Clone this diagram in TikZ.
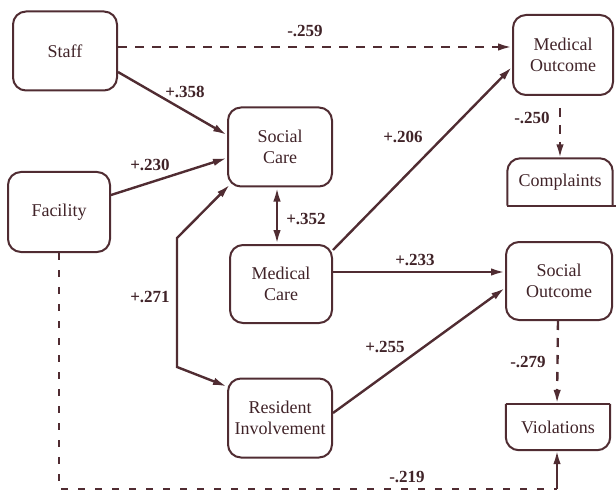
\documentclass[tikz,border=0pt]{standalone}
\usepackage{fontspec}
\setmainfont{Liberation Serif}
\usetikzlibrary{arrows.meta,positioning}
\definecolor{ink}{RGB}{80,44,50}

\begin{document}
\begin{tikzpicture}[x=1pt,y=-1pt,
  box/.style={draw=ink,line width=2pt,rounded corners=13pt,align=center,text=ink!80!black,inner sep=0pt,font=\fontsize{18}{21}\selectfont},
  plainbox/.style={align=center,text=ink!80!black,inner sep=0pt,font=\fontsize{18}{21}\selectfont},
  lbl/.style={text=ink!80!black,inner sep=0pt,font=\bfseries\fontsize{17}{20}\selectfont},
  arr/.style={draw=ink,line width=2.4pt,-{Latex[length=14pt,width=7.5pt]}},
  darr/.style={arr,dash pattern=on 9pt off 8pt}]
  \useasboundingbox (0,0) rectangle (616,492);
  % boxes
  \node[box,minimum width=104pt,minimum height=79pt] (staff) at (65,51) {Staff};
  \node[box,minimum width=102pt,minimum height=80pt] (fac) at (59,212) {Facility};
  \node[box,minimum width=104pt,minimum height=79pt] (socc) at (280,147) {Social\\Care};
  \node[box,minimum width=102pt,minimum height=78pt] (medc) at (281,284) {Medical\\Care};
  \node[box,minimum width=104pt,minimum height=79pt] (resi) at (280,418) {Resident\\Involvement};
  \node[box,minimum width=100pt,minimum height=80pt] (medo) at (563,55) {Medical\\Outcome};
  \node[box,minimum width=106pt,minimum height=78pt] (soco) at (559,281) {Social\\Outcome};
  \node[plainbox,minimum width=105pt,minimum height=47pt] (cmpl) at (560,182) {Complaints};
  \node[plainbox,minimum width=104pt,minimum height=46pt] (viol) at (558,427) {Violations};
  \draw[ink,line width=2pt,rounded corners=13pt] (cmpl.south west) -- (cmpl.north west) -- (cmpl.north east) -- (cmpl.south east);
  \draw[ink,line width=2pt] (cmpl.south west) -- ([xshift=3pt]cmpl.south east);
  \draw[ink,line width=2pt,rounded corners=13pt] (viol.north west) -- (viol.south west) -- (viol.south east) -- (viol.north east);
  \draw[ink,line width=2pt] (viol.north west) -- (viol.north east);
  % corners of the long paths
  \coordinate (k1) at (177,238);
  \coordinate (k2) at (177,367);
  \coordinate (b1) at (59,489);
  \coordinate (b2) at (557,489);
  % connectors
  \draw[darr] ([yshift=4pt]staff.east) -- ([yshift=4pt]staff.east -| medo.west);
  \draw[arr] ([yshift=-21pt]staff.east) -- ([yshift=12pt]socc.west);
  \draw[arr] ([yshift=17pt]fac.east) -- ([yshift=-11pt]socc.west);
  \draw[arr,{Latex[length=14pt,width=7.5pt]}-{Latex[length=14pt,width=7.5pt]}] ([xshift=-3pt]socc.south) -- ([xshift=-3pt]socc.south |- medc.north);
  \draw[arr,{Latex[length=14pt,width=7.5pt]}-{Latex[length=14pt,width=7.5pt]}] ([shift={(3pt,3pt)}]socc.south west) -- (k1) -- (k2) -- ([yshift=-9pt]resi.north west);
  \draw[arr] ([yshift=34pt]medc.east) -- ([yshift=-12pt]medo.west);
  \draw[arr] ([yshift=12pt]medc.east) -- ([yshift=12pt]medc.east -| soco.west);
  \draw[arr] ([yshift=5pt]resi.east) -- ([yshift=-7pt]soco.west);
  \draw[darr] ([yshift=-12pt]medo.south -| cmpl.north) -- (cmpl.north);
  \draw[darr] (soco.south -| viol.north) -- ([xshift=-1pt]viol.north);
  \draw[ink,line width=2.4pt,dash pattern=on 7pt off 10pt] (fac.south) -- (b1) -- (b2);
  \draw[arr] (b2) -- (b2 |- viol.south);
  % path labels
  \node[lbl] (l259) at (305,31) {-.259};
  \node[lbl] (l358) at (185,92) {+.358};
  \node[lbl] (l230) at (150,165) {+.230};
  \node[lbl] (l352) at (306,219) {+.352};
  \node[lbl] (l206) at (403,137) {+.206};
  \node[lbl] (l250) at (532,118) {-.250};
  \node[lbl] (l271) at (150,297) {+.271};
  \node[lbl] (l233) at (415,260) {+.233};
  \node[lbl] (l255) at (385,347) {+.255};
  \node[lbl] (l279) at (528,362) {-.279};
  \node[lbl] (l219) at (407,477) {-.219};
\end{tikzpicture}
\end{document}
